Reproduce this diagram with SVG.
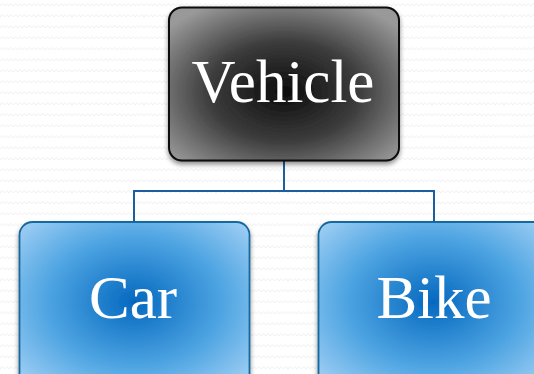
<svg xmlns="http://www.w3.org/2000/svg" width="534" height="374" viewBox="0 0 534 374">
<defs>
<pattern id="bg" width="9" height="11" patternUnits="userSpaceOnUse">
<rect width="9" height="11" fill="#ffffff"/>
<polyline points="0,6 2.25,3.5 4.5,6 6.75,3.5 9,6" fill="none" stroke="#f1f1f1" stroke-width="1"/>
</pattern>
<radialGradient id="gDark" cx="50%" cy="55%" r="65%">
<stop offset="0" stop-color="#0c0c0c"/>
<stop offset="0.5" stop-color="#3c3c3c"/>
<stop offset="1" stop-color="#999999"/>
</radialGradient>
<radialGradient id="gBlue" cx="50%" cy="47%" r="70%">
<stop offset="0" stop-color="#0468bf"/>
<stop offset="0.55" stop-color="#4fa5e2"/>
<stop offset="1" stop-color="#a8d3f6"/>
</radialGradient>
<filter id="sh" x="-10%" y="-10%" width="120%" height="130%">
<feGaussianBlur in="SourceAlpha" stdDeviation="2.5"/>
<feOffset dy="3" result="b"/>
<feComponentTransfer><feFuncA type="linear" slope="0.45"/></feComponentTransfer>
<feMerge><feMergeNode/><feMergeNode in="SourceGraphic"/></feMerge>
</filter>
</defs>
<style>
.lbl{font-family:"Liberation Serif","Times New Roman",serif;font-size:61px;fill:#ffffff;text-anchor:middle}
.con{fill:none;stroke:#1c5fa0;stroke-width:2}
.blue{fill:url(#gBlue);stroke:#17699c;stroke-width:1.8}
</style>
<rect width="534" height="374" fill="url(#bg)"/>
<g id="connectors">
<path class="con" d="M284,161 V191 M134,191 H434 M134,190 V222 M434,190 V222"/>
</g>
<g id="vehicle">
<rect x="169" y="7.5" width="230" height="153" rx="13" fill="url(#gDark)" stroke="#0a0a0a" stroke-width="2" filter="url(#sh)"/>
<text class="lbl" x="283" y="102">Vehicle</text>
</g>
<g id="car">
<rect class="blue" x="19.5" y="222" width="230" height="170" rx="13" filter="url(#sh)"/>
<text class="lbl" x="133" y="318">Car</text>
</g>
<g id="bike">
<rect class="blue" x="318.5" y="222" width="230" height="170" rx="13" filter="url(#sh)"/>
<text class="lbl" x="434" y="318">Bike</text>
</g>
</svg>
